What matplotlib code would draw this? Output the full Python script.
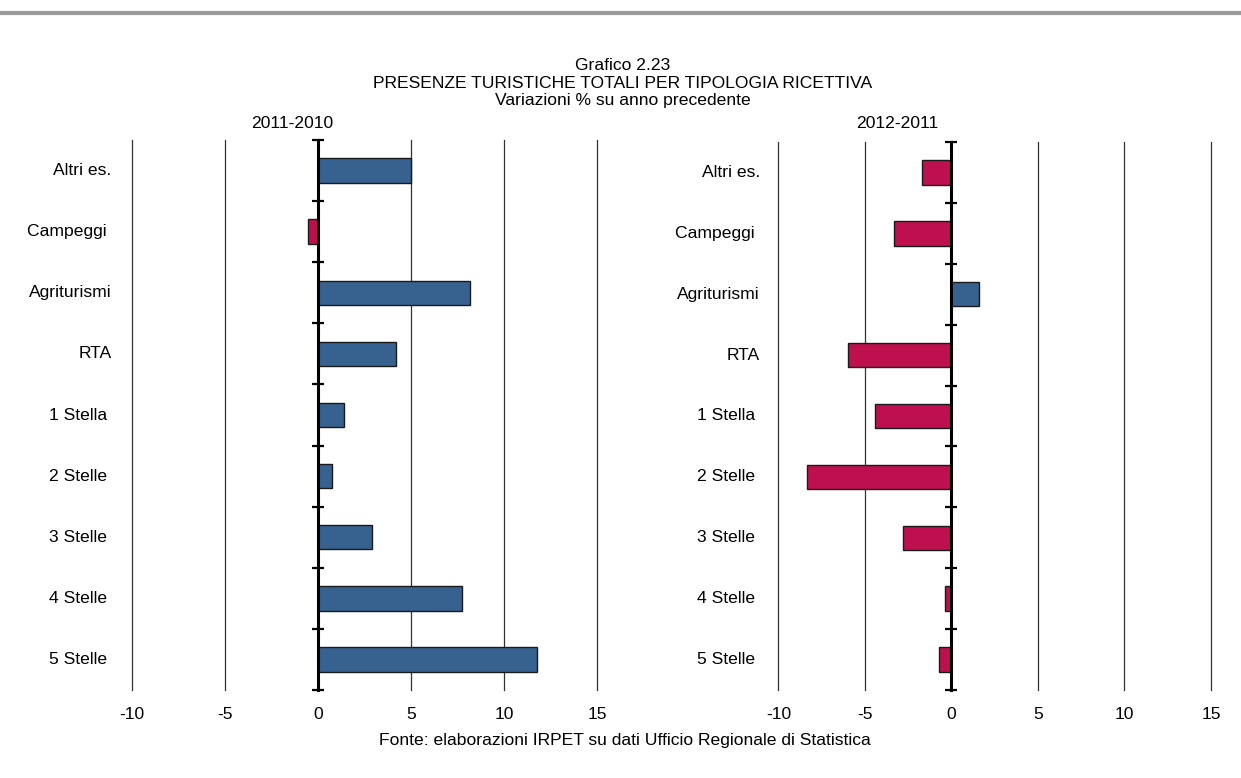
import matplotlib
matplotlib.use('Agg')
import matplotlib.pyplot as plt
from matplotlib.lines import Line2D

plt.rcParams['font.family'] = ['Liberation Sans', 'DejaVu Sans']
plt.rcParams['font.size'] = 12.6
plt.rcParams['axes.unicode_minus'] = False

# categories, top to bottom
categorie = ['Altri es.', 'Campeggi ', 'Agriturismi', 'RTA', '1 Stella ',
             '2 Stelle ', '3 Stelle ', '4 Stelle ', '5 Stelle ']
var_2011 = [5.0, -0.55, 8.2, 4.2, 1.4, 0.75, 2.9, 7.75, 11.8]
var_2012 = [-1.7, -3.3, 1.6, -6.0, -4.4, -8.35, -2.8, -0.35, -0.75]
xticks = [-10, -5, 0, 5, 10, 15]

blu = '#37618F'
rosso = '#BE0F4E'

fig = plt.figure(figsize=(12.41, 7.78), dpi=100)

# grey rule at top
fig.add_artist(Line2D([0.002, 1.0], [1 - 13 / 778] * 2, color='#999999', lw=3))

fig.text(623 / 1241, 1 - 66 / 778, 'Grafico 2.23', ha='center', va='center')
fig.text(623 / 1241, 1 - 83 / 778, 'PRESENZE TURISTICHE TOTALI PER TIPOLOGIA RICETTIVA',
         ha='center', va='center')
fig.text(623 / 1241, 1 - 100 / 778, 'Variazioni % su anno precedente', ha='center', va='center')
fig.text(625 / 1241, 1 - 740 / 778, 'Fonte: elaborazioni IRPET su dati Ufficio Regionale di Statistica',
         ha='center', va='center')


def pannello(rect, valori, titolo, xtit):
    ax = fig.add_axes(rect)
    y = list(range(len(categorie)))
    colori = [blu if v >= 0 else rosso for v in valori]
    ax.barh(y, valori, height=0.4, color=colori, edgecolor='#1a1a1a', linewidth=1, zorder=3)
    ax.set_xlim(-10, 15)
    ax.set_ylim(len(categorie) - 0.5, -0.5)
    ax.set_xticks(xticks)
    ax.tick_params(axis='x', length=0, pad=12)
    ax.grid(axis='x', color='#333333', linewidth=0.9, zorder=0)
    for g in ax.xaxis.get_gridlines():
        g.set_clip_on(False)
    for s in ['top', 'right', 'bottom']:
        ax.spines[s].set_visible(False)
    ax.spines['left'].set_position(('data', 0))
    ax.spines['left'].set_linewidth(2.2)
    ax.spines['left'].set_zorder(4)
    ax.set_yticks([i - 0.5 for i in range(len(categorie) + 1)])
    ax.set_yticklabels([])
    ax.tick_params(axis='y', direction='inout', length=9, width=1.6)
    for i, nome in enumerate(categorie):
        ax.text(-0.043, i, nome, transform=ax.get_yaxis_transform(), ha='right', va='center')
    fig.text(xtit / 1241, 1 - 124 / 778, titolo, ha='center', va='center')
    return ax


pannello([131.7 / 1241, 1 - 690 / 778, (597 - 131.7) / 1241, (690 - 140) / 778],
         var_2011, '2011-2010', 291.7)
pannello([778.5 / 1241, 1 - 690 / 778, (1211 - 778.5) / 1241, (690 - 142) / 778],
         var_2012, '2012-2011', 897)

fig.savefig('out.png', dpi=100)
